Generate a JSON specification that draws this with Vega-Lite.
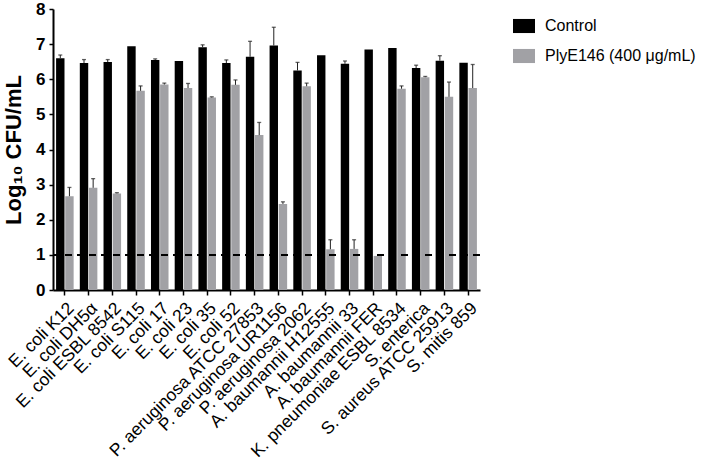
{
  "$schema": "https://vega.github.io/schema/vega-lite/v6.json",
  "width": 427,
  "height": 281,
  "autosize": "none",
  "padding": {"left": 53, "top": 9, "right": 228, "bottom": 179},
  "background": "white",
  "config": {
    "font": "Liberation Sans",
    "view": {"stroke": null},
    "axis": {"grid": false, "domainColor": "black", "tickColor": "black", "labelColor": "black", "titleColor": "black"}
  },
  "data": {
    "values": [
      {"strain": "E. coli K12", "group": "Control", "value": 6.60, "upper": 6.69},
      {"strain": "E. coli DH5α", "group": "Control", "value": 6.46, "upper": 6.56},
      {"strain": "E. coli ESBL 8542", "group": "Control", "value": 6.49, "upper": 6.56},
      {"strain": "E. coli S115", "group": "Control", "value": 6.94, "upper": null},
      {"strain": "E. coli 17", "group": "Control", "value": 6.55, "upper": 6.58},
      {"strain": "E. coli 23", "group": "Control", "value": 6.52, "upper": null},
      {"strain": "E. coli 35", "group": "Control", "value": 6.91, "upper": 6.98},
      {"strain": "E. coli 52", "group": "Control", "value": 6.46, "upper": 6.55},
      {"strain": "P. aeruginosa ATCC 27853", "group": "Control", "value": 6.64, "upper": 7.08},
      {"strain": "P. aeruginosa UR1156", "group": "Control", "value": 6.96, "upper": 7.48},
      {"strain": "P. aeruginosa 2062", "group": "Control", "value": 6.25, "upper": 6.48},
      {"strain": "A. baumannii H12555", "group": "Control", "value": 6.68, "upper": null},
      {"strain": "A. baumannii 33", "group": "Control", "value": 6.44, "upper": 6.52},
      {"strain": "A. baumannii FER", "group": "Control", "value": 6.85, "upper": null},
      {"strain": "K. pneumoniae ESBL 8534", "group": "Control", "value": 6.89, "upper": null},
      {"strain": "S. enterica", "group": "Control", "value": 6.32, "upper": 6.40},
      {"strain": "S. aureus ATCC 25913", "group": "Control", "value": 6.53, "upper": 6.67},
      {"strain": "S. mitis 859", "group": "Control", "value": 6.47, "upper": null},
      {"strain": "E. coli K12", "group": "PlyE146 (400 μg/mL)", "value": 2.67, "upper": 2.92},
      {"strain": "E. coli DH5α", "group": "PlyE146 (400 μg/mL)", "value": 2.91, "upper": 3.17},
      {"strain": "E. coli ESBL 8542", "group": "PlyE146 (400 μg/mL)", "value": 2.75, "upper": 2.77},
      {"strain": "E. coli S115", "group": "PlyE146 (400 μg/mL)", "value": 5.67, "upper": 5.81},
      {"strain": "E. coli 17", "group": "PlyE146 (400 μg/mL)", "value": 5.85, "upper": 5.89},
      {"strain": "E. coli 23", "group": "PlyE146 (400 μg/mL)", "value": 5.75, "upper": 5.88},
      {"strain": "E. coli 35", "group": "PlyE146 (400 μg/mL)", "value": 5.48, "upper": 5.50},
      {"strain": "E. coli 52", "group": "PlyE146 (400 μg/mL)", "value": 5.84, "upper": 5.98},
      {"strain": "P. aeruginosa ATCC 27853", "group": "PlyE146 (400 μg/mL)", "value": 4.41, "upper": 4.77},
      {"strain": "P. aeruginosa UR1156", "group": "PlyE146 (400 μg/mL)", "value": 2.45, "upper": 2.51},
      {"strain": "P. aeruginosa 2062", "group": "PlyE146 (400 μg/mL)", "value": 5.80, "upper": 5.89},
      {"strain": "A. baumannii H12555", "group": "PlyE146 (400 μg/mL)", "value": 1.16, "upper": 1.43},
      {"strain": "A. baumannii 33", "group": "PlyE146 (400 μg/mL)", "value": 1.17, "upper": 1.43},
      {"strain": "A. baumannii FER", "group": "PlyE146 (400 μg/mL)", "value": 0.97, "upper": null},
      {"strain": "K. pneumoniae ESBL 8534", "group": "PlyE146 (400 μg/mL)", "value": 5.73, "upper": 5.81},
      {"strain": "S. enterica", "group": "PlyE146 (400 μg/mL)", "value": 6.06, "upper": 6.08},
      {"strain": "S. aureus ATCC 25913", "group": "PlyE146 (400 μg/mL)", "value": 5.50, "upper": 5.92},
      {"strain": "S. mitis 859", "group": "PlyE146 (400 μg/mL)", "value": 5.75, "upper": 6.42}
    ]
  },
  "encoding": {
    "x": {
      "field": "strain", "type": "nominal", "sort": null,
      "scale": {"paddingInner": 0.26, "paddingOuter": 0.13},
      "axis": {"title": null, "labelAngle": -45, "labelFontSize": 17.5, "labelFontWeight": "normal", "labelPadding": 4, "tickSize": 5, "tickWidth": 1.5, "domainWidth": 2, "labelLimit": 300}
    },
    "xOffset": {"field": "group", "type": "nominal", "scale": {"paddingInner": 0.08}},
    "y": {
      "field": "value", "type": "quantitative",
      "scale": {"domain": [0, 8], "nice": false},
      "axis": {"title": "Log₁₀ CFU/mL", "values": [0,1,2,3,4,5,6,7,8], "titleFontSize": 22, "titleFontWeight": "bold", "titlePadding": 10, "labelFontSize": 17, "labelFontWeight": "bold", "labelPadding": 4, "tickSize": 4, "tickWidth": 1.5, "domainWidth": 2}
    }
  },
  "layer": [
    {
      "mark": {"type": "bar"},
      "encoding": {
        "color": {
          "field": "group", "type": "nominal",
          "scale": {"range": ["#000000", "#a1a1a5"]},
          "legend": {"title": null, "orient": "none", "legendX": 460, "legendY": 6, "symbolType": "M-1,-0.64H1V0.64H-1Z", "symbolSize": 484, "symbolStrokeWidth": 0, "labelFontSize": 16, "labelOffset": 10, "rowPadding": 11, "labelLimit": 300, "labelColor": "black"}
        }
      }
    },
    {
      "transform": [{"filter": "isValid(datum.upper)"}],
      "mark": {"type": "rule", "color": "#222222", "strokeWidth": 1},
      "encoding": {"y2": {"field": "upper"}}
    },
    {
      "transform": [{"filter": "isValid(datum.upper)"}],
      "mark": {"type": "tick", "color": "#222222", "size": 4, "thickness": 1.3},
      "encoding": {"y": {"field": "upper", "type": "quantitative"}}
    },
    {
      "mark": {"type": "rule", "color": "black", "strokeWidth": 2, "strokeDash": [7, 5]},
      "encoding": {"y": {"datum": 1}, "x": null, "xOffset": null}
    }
  ]
}
